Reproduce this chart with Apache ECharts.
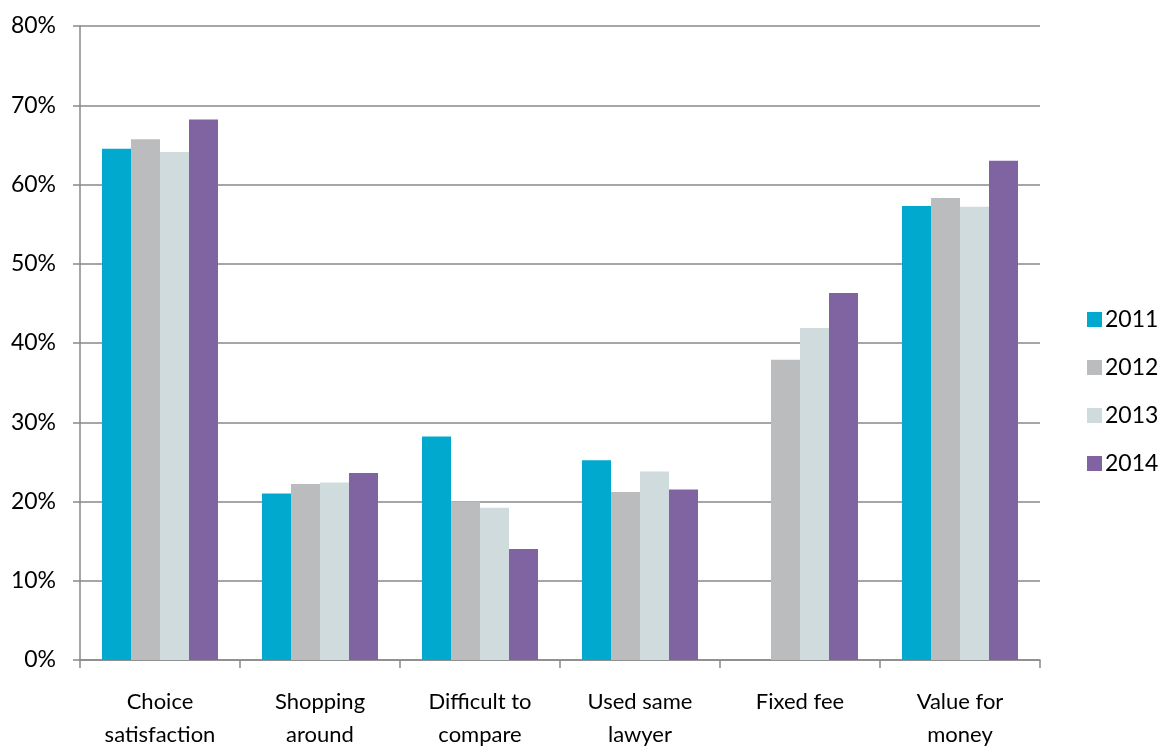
<!DOCTYPE html>
<html>
<head>
<meta charset="utf-8">
<script src="https://cdn.jsdelivr.net/npm/echarts@6/dist/echarts.min.js"></script>
<style>html,body{margin:0;padding:0;background:#fff;overflow:hidden;}#c{width:1165px;height:751px;}</style>
</head>
<body>
<div id="c"></div>
<script>
var categories = ["Choice\nsatisfaction", "Shopping\naround", "Difficult to\ncompare", "Used same\nlawyer", "Fixed fee", "Value for\nmoney"];
var seriesNames = ["2011", "2012", "2013", "2014"];
var v2011 = [64.5, 21.0, 28.2, 25.2, null, 57.3];
var v2012 = [65.7, 22.2, 20.0, 21.2, 37.9, 58.3];
var v2013 = [64.1, 22.4, 19.2, 23.8, 41.9, 57.2];
var v2014 = [68.2, 23.6, 14.0, 21.5, 46.3, 63.0];
var yTicks = [0, 10, 20, 30, 40, 50, 60, 70, 80];

var colors = ["#00A9CD", "#BBBCBE", "#CFDBDD", "#8064A2"];
var values = [v2011, v2012, v2013, v2014];
var font = "Lato, 'Open Sans', sans-serif";
var chart = echarts.init(document.getElementById('c'));
chart.setOption({
  animation: false,
  textStyle: {fontFamily: font},
  grid: {left: 80, right: 125, top: 26, bottom: 86, containLabel: false},
  legend: {
    orient: 'vertical', left: 1082, top: 303,
    itemWidth: 15, itemHeight: 15, itemGap: 25,
    icon: 'rect',
    textStyle: {fontSize: 23, color: '#000', fontFamily: font, padding: [0,0,0,-2]},
    data: seriesNames
  },
  xAxis: {
    type: 'category', data: categories,
    axisLine: {lineStyle: {color: '#898989', width: 1.5}},
    axisTick: {show: true, length: 8, lineStyle: {color: '#898989', width: 1.5}},
    axisLabel: {fontSize: 22, color: '#000', lineHeight: 33, margin: 25, interval: 0}
  },
  yAxis: {
    type: 'value', min: yTicks[0], max: yTicks[yTicks.length-1], interval: 10,
    axisLine: {show: true, lineStyle: {color: '#898989', width: 1.5}},
    axisTick: {show: true, length: 7, lineStyle: {color: '#898989', width: 1.5}},
    axisLabel: {fontSize: 23, color: '#000', margin: 24, formatter: '{value}%'},
    splitLine: {lineStyle: {color: '#898989', width: 1.5}}
  },
  series: seriesNames.map(function(n, i){
    return {
      name: n, type: 'bar', data: values[i], barWidth: 29, barGap: '0%',
      itemStyle: {color: colors[i]}
    };
  })
});
</script>
</body>
</html>
